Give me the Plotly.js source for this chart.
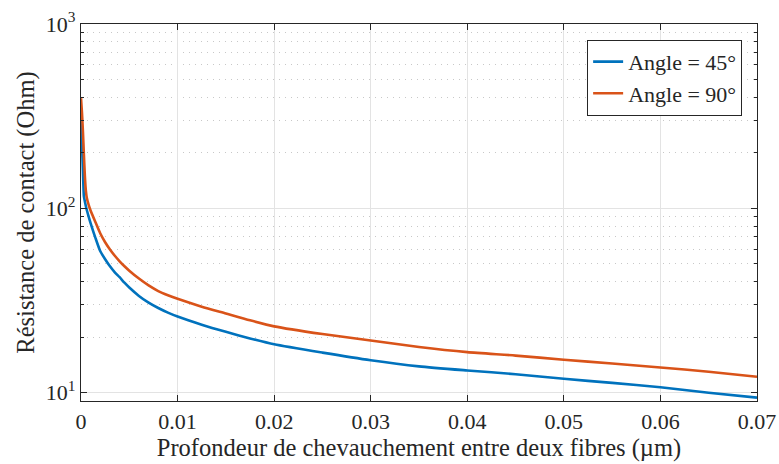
<!DOCTYPE html>
<html>
<head>
<meta charset="utf-8">
<script src="https://cdn.plot.ly/plotly-3.0.1.min.js"></script>
<style>html,body{margin:0;padding:0;background:#fff;}#chart{width:779px;height:464px;}</style>
</head>
<body>
<div id="chart"></div>
<script>
// Overlap depth (µm) and contact resistance (Ohm)
const depth45 = [0, 0.0001, 0.0002, 0.0003, 0.0004, 0.0006, 0.0008, 0.001, 0.0015, 0.002, 0.0025, 0.003, 0.0035, 0.004, 0.0045, 0.005, 0.006, 0.007, 0.008, 0.009, 0.01, 0.0125, 0.015, 0.0175, 0.02, 0.025, 0.03, 0.035, 0.04, 0.045, 0.05, 0.055, 0.06, 0.065, 0.07];
const res45   = [310, 225, 160, 116, 109, 98, 90, 83, 69, 58.5, 53, 48.5, 45, 42.3, 39.5, 37.2, 33.5, 30.8, 28.8, 27.2, 25.9, 23.4, 21.4, 19.7, 18.3, 16.5, 15.0, 13.9, 13.2, 12.6, 11.9, 11.3, 10.7, 10.0, 9.4];
const depth90 = [0, 0.0001, 0.0002, 0.0003, 0.0004, 0.0005, 0.0006, 0.0008, 0.001, 0.0015, 0.002, 0.0025, 0.003, 0.0035, 0.004, 0.0045, 0.005, 0.006, 0.007, 0.008, 0.009, 0.01, 0.0125, 0.015, 0.0175, 0.02, 0.025, 0.03, 0.035, 0.04, 0.045, 0.05, 0.055, 0.06, 0.065, 0.07];
const res90   = [396, 330, 260, 195, 150, 125, 114, 104, 97, 84, 73, 65.5, 59.8, 55.3, 51.6, 48.5, 45.9, 41.6, 38.2, 35.6, 33.8, 32.3, 29.3, 26.9, 24.7, 22.9, 20.8, 19.2, 17.7, 16.6, 15.9, 15.1, 14.4, 13.7, 13.0, 12.2];
const seriesNames = ['Angle = 45°', 'Angle = 90°'];
const xTickVals = [0, 0.01, 0.02, 0.03, 0.04, 0.05, 0.06, 0.07];
const xTickText = ['0', '0.01', '0.02', '0.03', '0.04', '0.05', '0.06', '0.07'];
const yTickVals = [10, 100, 1000];
const yTickText = ['10<sup>1</sup>', '10<sup>2</sup>', '10<sup>3</sup>'];
const yMinorVals = [20, 30, 40, 50, 60, 70, 80, 90, 200, 300, 400, 500, 600, 700, 800, 900];

const FONT = 'Liberation Serif';
const AX = '#262626';

const traces = [
  {x: depth45, y: res45, name: seriesNames[0], mode: 'lines', line: {color: '#0072BD', width: 2.6, shape: 'spline', smoothing: 0.6}},
  {x: depth90, y: res90, name: seriesNames[1], mode: 'lines', line: {color: '#D95319', width: 2.6, shape: 'spline', smoothing: 0.6}}
];

const layout = {
  width: 779, height: 464,
  margin: {l: 81, r: 22, t: 24, b: 63},
  paper_bgcolor: '#fff', plot_bgcolor: '#fff',
  font: {family: FONT, size: 22, color: AX},
  showlegend: true,
  legend: {
    x: 0.978, y: 0.958, xanchor: 'right', yanchor: 'top',
    bgcolor: '#fff', bordercolor: AX, borderwidth: 1,
    font: {family: FONT, size: 22, color: AX},
    tracegroupgap: 0
  },
  xaxis: {
    range: [0, 0.07],
    tickvals: xTickVals, ticktext: xTickText,
    showgrid: true, gridcolor: '#e3e3e3', gridwidth: 1,
    zeroline: false,
    showline: true, linecolor: AX, linewidth: 1.2, mirror: 'ticks',
    ticks: 'inside', ticklen: 6, tickcolor: AX,
    tickfont: {family: FONT, size: 22, color: AX},
    title: {text: 'Profondeur de chevauchement entre deux fibres (µm)', font: {family: FONT, size: 24.5, color: AX}, standoff: 4}
  },
  yaxis: {
    type: 'log',
    range: [0.955, 3],
    tickvals: yTickVals, ticktext: yTickText,
    showgrid: true, gridcolor: '#e3e3e3', gridwidth: 1,
    zeroline: false,
    showline: true, linecolor: AX, linewidth: 1.2, mirror: 'ticks',
    ticks: 'inside', ticklen: 6, tickcolor: AX,
    tickfont: {family: FONT, size: 22, color: AX},
    minor: {
      tickvals: yMinorVals,
      ticks: 'inside', ticklen: 3, tickcolor: AX,
      showgrid: true, gridcolor: '#c8c8c8', griddash: '1px,5px', gridwidth: 1
    },
    title: {text: 'Résistance de contact (Ohm)', font: {family: FONT, size: 24.5, color: AX}, standoff: 4}
  }
};

Plotly.newPlot('chart', traces, layout, {displayModeBar: false, staticPlot: true});
</script>
</body>
</html>
